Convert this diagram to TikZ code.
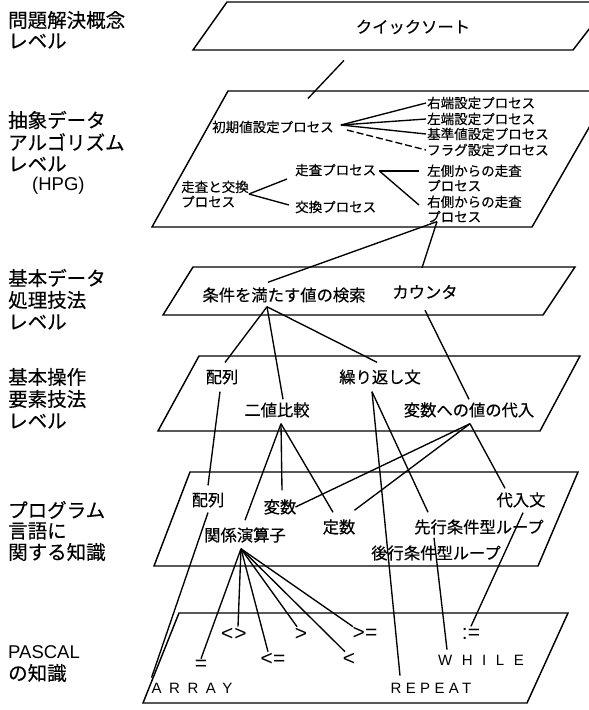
\documentclass[tikz,border=0pt]{standalone}
\usepackage{fontspec}
\setmainfont{Noto Sans CJK JP}[FakeBold=0.35]
\newfontfamily\latf{Liberation Sans}
\newfontfamily\lsA[LetterSpace=50]{Liberation Sans}
\newfontfamily\lsW[LetterSpace=64]{Liberation Sans}
\newfontfamily\lsR[LetterSpace=29]{Liberation Sans}
\begin{document}
\begin{tikzpicture}[x=1pt,y=-1pt,
  plane/.style={line width=1.45pt, line join=miter},
  con/.style={line width=1.35pt},
  lbl/.style={anchor=west, inner sep=0pt, font=\fontsize{19.5}{19.5}\selectfont},
  tm/.style={inner sep=1pt, font=\fontsize{16.3}{16.3}\selectfont},
  ts/.style={inner sep=1pt, font=\fontsize{13.5}{15}\selectfont, align=left},
  op/.style={inner sep=1pt, font=\latf\fontsize{21}{21}\selectfont},
  pw/.style={inner sep=1pt},
]
\useasboundingbox (0,0) rectangle (589,710);
\clip (0,0) rectangle (589,710);
% planes
\draw[plane] (227,2) -- (610,2) -- (573,50) -- (193,50) -- cycle;
\draw[plane] (228,91) -- (610,91) -- (532,227) -- (152,227) -- cycle;
\draw[plane] (193,267) -- (575,267) -- (543,315) -- (163,315) -- cycle;
\draw[plane] (199,356) -- (580,356) -- (540,431) -- (158,431) -- cycle;
\draw[plane] (190,472) -- (578,472) -- (538,566) -- (154,566) -- cycle;
\draw[plane] (179,613) -- (568,613) -- (527,703) -- (143,703) -- cycle;
% left labels
\node[lbl] (l1a) at (8,20) {問題解決概念};
\node[lbl] (l1b) at (8,41) {レベル};
\node[lbl] (l2a) at (8,120) {抽象データ};
\node[lbl] (l2b) at (8,142) {アルゴリズム};
\node[lbl] (l2c) at (8,164) {レベル};
\node[lbl,font=\latf\fontsize{18.5}{18.5}\selectfont] (l2d) at (32,186) {(HPG)};
\node[lbl] (l3a) at (8,278) {基本データ};
\node[lbl] (l3b) at (8,300) {処理技法};
\node[lbl] (l3c) at (8,322) {レベル};
\node[lbl] (l4a) at (8,377) {基本操作};
\node[lbl] (l4b) at (8,399) {要素技法};
\node[lbl] (l4c) at (8,421) {レベル};
\node[lbl] (l5a) at (8,510) {プログラム};
\node[lbl] (l5b) at (8,531) {言語に};
\node[lbl] (l5c) at (8,552) {関する知識};
\node[lbl,font=\latf\fontsize{18.5}{18.5}\selectfont] (l6a) at (8,652) {PASCAL};
\node[lbl] (l6b) at (8,673) {の知識};
% level 1
\node[tm] (quick) at (413,27) {クイックソート};
% level 2
\node[ts,anchor=west] (shoki) at (211,127) {初期値設定プロセス};
\node[ts,anchor=west] (rend) at (426,103) {右端設定プロセス};
\node[ts,anchor=west] (lend) at (426,119) {左端設定プロセス};
\node[ts,anchor=west] (kijun) at (426,134) {基準値設定プロセス};
\node[ts,anchor=west] (flag) at (426,150) {フラグ設定プロセス};
\node[ts,anchor=west] (sk) at (180,194) {走査と交換\\プロセス};
\node[ts,anchor=west] (sousa) at (294,170) {走査プロセス};
\node[ts,anchor=west] (koukan) at (294,207) {交換プロセス};
\node[ts,anchor=west] (lscan) at (426,178) {左側からの走査\\プロセス};
\node[ts,anchor=west] (rscan) at (426,209) {右側からの走査\\プロセス};
% level 3
\node[tm] (jouken) at (284,295) {条件を満たす値の検索};
\node[tm] (counter) at (425,292) {カウンタ};
% level 4
\node[tm] (hairetsuA) at (222,377) {配列};
\node[tm] (kuri) at (380,377) {繰り返し文};
\node[tm] (nichi) at (277,410) {二値比較};
\node[tm] (hendai) at (469,410) {変数への値の代入};
% level 5
\node[tm] (hairetsuB) at (208,500) {配列};
\node[tm] (hensu) at (280,507) {変数};
\node[tm] (dainyu) at (521,500) {代入文};
\node[tm] (teisu) at (339,527) {定数};
\node[tm] (kankei) at (245,535) {関係演算子};
\node[tm] (senkou) at (479,527) {先行条件型ループ};
\node[tm] (koukou) at (436,553) {後行条件型ループ};
% level 6
\node[op] (ne) at (234,634) {<\kern1pt>};
\node[op] (gt) at (301,634) {>};
\node[op] (ge) at (365,633) {>=};
\node[op] (asg) at (471,634) {:=};
\node[op] (eq) at (201,665) {=};
\node[op] (le) at (273,659) {<=};
\node[op] (lt) at (349,659) {<};
\node[pw,font=\lsW\fontsize{15}{15}\selectfont] (while) at (481,660) {WHILE};
\node[pw,font=\lsA\fontsize{15}{15}\selectfont] (array) at (192,688) {ARRAY};
\node[pw,font=\lsR\fontsize{15}{15}\selectfont] (repeat) at (431,688) {REPEAT};
% connectors level1-2
\draw[con] ([shift={(-69,25)}]quick.south) -- ([shift={(-27,-21)}]shoki.north east);
% level 2 internal
\draw[con] ([shift={(6,-2)}]shoki.east) -- (rend.west);
\draw[con] ([shift={(6,-2)}]shoki.east) -- (lend.west);
\draw[con] ([shift={(6,-2)}]shoki.east) -- (kijun.west);
\draw[con,dash pattern=on 7pt off 3pt] ([shift={(12,3)}]shoki.east) -- (flag.west);
\draw[con] ([shift={(-1,0)}]sk.east) -- ([shift={(-7,9)}]sousa.west);
\draw[con] ([shift={(-1,0)}]sk.east) -- ([shift={(-5,-2)}]koukan.west);
\draw[con] ([shift={(2,1)}]sousa.east) -- ([shift={(-7,-7)}]lscan.west);
\draw[con] ([shift={(2,1)}]sousa.east) -- ([shift={(-7,-4)}]rscan.west);
% level 2-3
\draw[con] ([shift={(11,-2)}]rscan.south west) -- ([shift={(-16,-4)}]jouken.north);
\draw[con] ([shift={(11,-2)}]rscan.south west) -- ([shift={(-3,-16)}]counter.north);
% level 3-4
\draw[con] ([shift={(-17,3)}]jouken.south) -- ([shift={(3,-6)}]hairetsuA.north);
\draw[con] ([shift={(-17,3)}]jouken.south) -- ([shift={(6,-2)}]nichi.north);
\draw[con] ([shift={(-17,3)}]jouken.south) -- ([shift={(-3,-6)}]kuri.north);
\draw[con] ([shift={(0,10)}]counter.south) -- ([shift={(0,-2)}]hendai.north);
% level 4-5
\draw[con] ([shift={(-2,6)}]hairetsuA.south) -- ([shift={(0,-6)}]hairetsuB.north);
\draw[con] ([shift={(4,5)}]nichi.south) -- ([shift={(0,-6)}]kankei.north);
\draw[con] ([shift={(4,5)}]nichi.south) -- ([shift={(2,-8)}]hensu.north);
\draw[con] ([shift={(4,5)}]nichi.south) -- ([shift={(-6,-6)}]teisu.north);
\draw[con] ([shift={(1,5)}]hendai.south) -- ([shift={(-2,0)}]hensu.east);
\draw[con] ([shift={(1,5)}]hendai.south) -- ([shift={(-2,-8)}]teisu.north east);
\draw[con] ([shift={(1,5)}]hendai.south) -- ([shift={(-16,-3)}]dainyu.north);
\draw[con] ([shift={(-8,6)}]kuri.south) -- ([shift={(-31,-6)}]repeat.north);
\draw[con] ([shift={(-8,6)}]kuri.south) -- ([shift={(-51,-6)}]senkou.north);
% level 5-6
\draw[con] ([shift={(0,4)}]hairetsuB.south) -- ([shift={(1,-4)}]array.north west);
\draw[con] ([shift={(-4,5)}]kankei.south) -- ([shift={(0,0)}]eq.north);
\draw[con] ([shift={(-4,5)}]kankei.south) -- ([shift={(4,0)}]ne.north);
\draw[con] ([shift={(-4,5)}]kankei.south) -- ([shift={(-5,0)}]le.north);
\draw[con] ([shift={(-4,5)}]kankei.south) -- ([shift={(-4,0)}]gt.north);
\draw[con] ([shift={(-4,5)}]kankei.south) -- ([shift={(-4,0)}]lt.north);
\draw[con] ([shift={(-4,5)}]kankei.south) -- ([shift={(-12,1)}]ge.north);
\draw[con] ([shift={(-45,2)}]senkou.south) -- ([shift={(-34,-4)}]while.north);
\draw[con] ([shift={(2,4)}]dainyu.south) -- ([shift={(0,-1)}]asg.north);
\end{tikzpicture}
\end{document}
